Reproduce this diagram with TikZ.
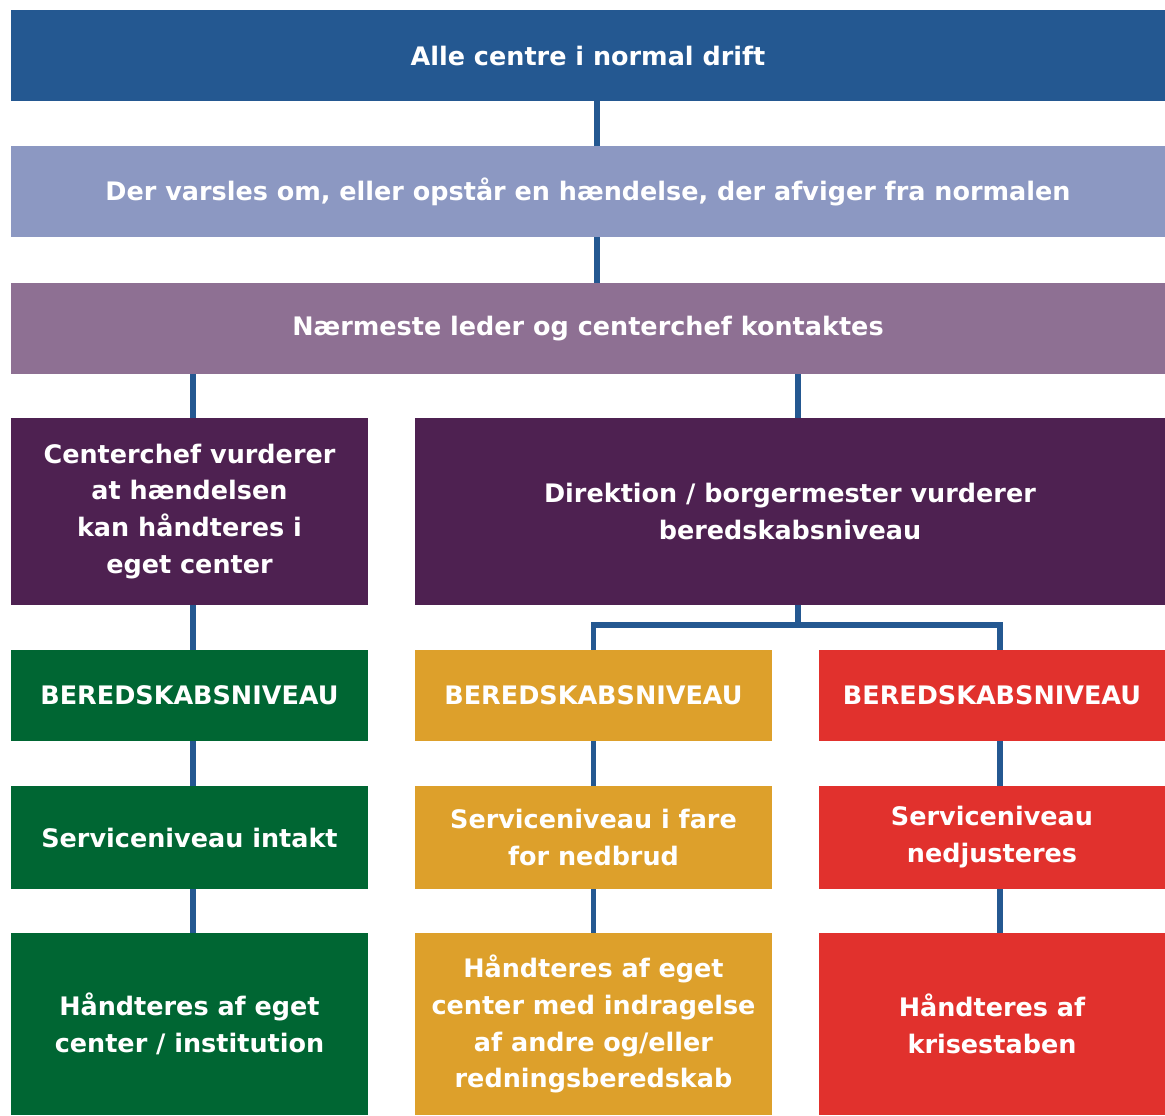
\documentclass[tikz,border=0pt]{standalone}
\usepackage{fontspec}
\setmainfont{DejaVu Sans}
\usetikzlibrary{positioning}

\definecolor{topblue}{RGB}{36,88,145}
\definecolor{lightblue}{RGB}{140,152,194}
\definecolor{mauve}{RGB}{142,112,147}
\definecolor{darkpurple}{RGB}{78,33,81}
\definecolor{levelgreen}{RGB}{0,102,51}
\definecolor{levelyellow}{RGB}{221,160,43}
\definecolor{levelred}{RGB}{225,49,45}

\tikzset{
    box/.style={inner sep=0pt, align=center, text=white,
        font=\fontsize{14.5}{21}\selectfont\bfseries},
    wide/.style={box, minimum width=23.08cm, minimum height=1.82cm},
    col/.style={box, minimum width=7.14cm},
    link/.style={draw=topblue, line width=3.4pt}
}

\begin{document}
\begin{tikzpicture}

        \useasboundingbox (0,0) rectangle (23.3,-22.3);

        % stem positions
        \coordinate (mid) at (11.94,0);
        \coordinate (rmid) at (15.96,0);
        \coordinate (lx) at (3.86,0);
        \coordinate (redx) at (20.0,0);
        \coordinate (fork) at (15.96,-12.5);

        % top rows

        \node [wide, fill=topblue] (normal) at (11.76,-1.11) {Alle centre i normal drift};
        \node [wide, fill=lightblue] (warn) at (11.76,-3.83)
            {Der varsles om, eller opstår en hændelse, der afviger fra normalen};
        \node [wide, fill=mauve] (contact) at (11.76,-6.57)
            {Nærmeste leder og centerchef kontaktes};

        % assessment

        \node [col, fill=darkpurple, minimum height=3.74cm] (chief) at (3.79,-10.23)
            {Centerchef vurderer\\at hændelsen\\kan håndteres i\\eget center};
        \node [box, fill=darkpurple, minimum width=15cm, minimum height=3.74cm] (board) at (15.8,-10.23)
            {Direktion / borgermester vurderer\\beredskabsniveau};

        % level row

        \node [col, fill=levelgreen, minimum height=1.82cm] (lvlg) at (3.79,-13.91) {BEREDSKABSNIVEAU};
        \node [col, fill=levelyellow, minimum height=1.82cm] (lvly) at (11.87,-13.91) {BEREDSKABSNIVEAU};
        \node [box, fill=levelred, minimum width=6.92cm, minimum height=1.82cm] (lvlr) at (19.84,-13.91) {BEREDSKABSNIVEAU};

        % service row

        \node [col, fill=levelgreen, minimum height=2.06cm] (srvg) at (3.79,-16.75) {Serviceniveau intakt};
        \node [col, fill=levelyellow, minimum height=2.06cm] (srvy) at (11.87,-16.75) {Serviceniveau i fare\\for nedbrud};
        \node [box, fill=levelred, minimum width=6.92cm, minimum height=2.06cm] (srvr) at (19.84,-16.75) {Serviceniveau\\nedjusteres};

        % handling row

        \node [col, fill=levelgreen, minimum height=3.64cm] (hndg) at (3.79,-20.48)
            {Håndteres af eget\\center / institution};
        \node [col, fill=levelyellow, minimum height=3.64cm] (hndy) at (11.87,-20.48)
            {Håndteres af eget\\center med indragelse\\af andre og/eller\\redningsberedskab};
        \node [box, fill=levelred, minimum width=6.92cm, minimum height=3.64cm] (hndr) at (19.84,-20.48)
            {Håndteres af\\krisestaben};

        % connectors

        \draw [link] (normal.south -| mid) -- (warn.north -| mid);
        \draw [link] (warn.south -| mid) -- (contact.north -| mid);
        \draw [link] (contact.south -| lx) -- (chief.north -| lx);
        \draw [link] (contact.south -| rmid) -- (board.north -| rmid);

        \draw [link] (chief.south -| lx) -- (lvlg.north -| lx);
        \draw [link] (lvlg.south -| lx) -- (srvg.north -| lx);
        \draw [link] (srvg.south -| lx) -- (hndg.north -| lx);

        \draw [link] (board.south -| fork) -- (fork);
        \draw [link] (fork) -| (lvly.north);
        \draw [link] (fork) -| (lvlr.north -| redx);

        \draw [link] (lvly.south) -- (srvy.north);
        \draw [link] (srvy.south) -- (hndy.north);
        \draw [link] (lvlr.south -| redx) -- (srvr.north -| redx);
        \draw [link] (srvr.south -| redx) -- (hndr.north -| redx);

    \end{tikzpicture}
\end{document}
